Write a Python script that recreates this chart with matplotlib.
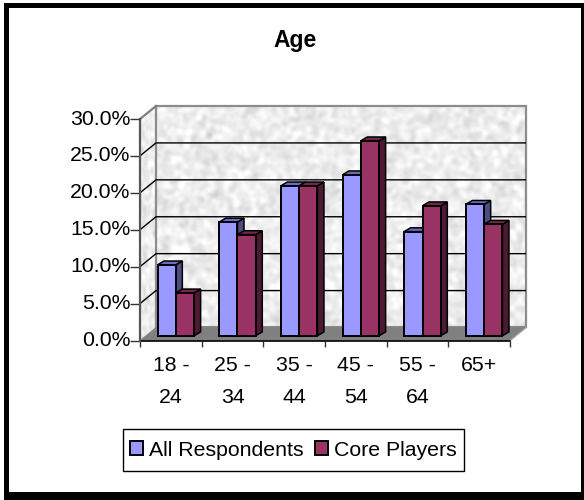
import numpy as np
import matplotlib
matplotlib.use("Agg")
import matplotlib.pyplot as plt
from matplotlib.patches import Polygon, Rectangle
from matplotlib.transforms import ScaledTranslation

plt.rcParams['font.family'] = ['Liberation Sans', 'DejaVu Sans']

categories = ["18 -\n24", "25 -\n34", "35 -\n44", "45 -\n54", "55 -\n64", "65+"]
all_respondents = [9.6, 15.4, 20.3, 21.8, 14.1, 17.8]
core_players = [5.8, 13.7, 20.3, 26.4, 17.6, 15.1]
y_ticks = [0, 5, 10, 15, 20, 25, 30]

W, H = 584, 500
FONT = 15.3

# pseudo 3d depth, in data units
DX = 16 / 61.7
DY = 13 / 7.38
BAR_W = 18.3 / 61.7
BAR_DX = 6.5 / 61.7
BAR_DY = 3.8 / 7.38
BASE_DX = 5.0 / 61.7
BASE_DY = 4.8 / 7.38


def wall_texture(n=220, m=370):
    # speckled grey paper look of the chart wall
    rng = np.random.default_rng(7)
    noise = rng.normal(size=(n, m))
    fy = np.fft.fftfreq(n)[:, None]
    fx = np.fft.fftfreq(m)[None, :]
    smooth = np.fft.ifft2(np.fft.fft2(noise) * np.exp(-(fx**2 + fy**2) * 90)).real
    smooth = smooth / smooth.std()
    return np.clip(0.93 + 0.03 * smooth, 0, 1)


def draw_bar(ax, x, h, face, top, side):
    x0 = x + BASE_DX
    y0 = BASE_DY
    ax.add_patch(Polygon([(x0 + BAR_W, y0), (x0 + BAR_W + BAR_DX, y0 + BAR_DY),
                          (x0 + BAR_W + BAR_DX, y0 + h + BAR_DY), (x0 + BAR_W, y0 + h)],
                         fc=side, ec="black", lw=1.1, zorder=5, clip_on=False))
    ax.add_patch(Polygon([(x0, y0 + h), (x0 + BAR_DX, y0 + h + BAR_DY),
                          (x0 + BAR_W + BAR_DX, y0 + h + BAR_DY), (x0 + BAR_W, y0 + h)],
                         fc=top, ec="black", lw=1.1, zorder=5, clip_on=False))
    ax.add_patch(Rectangle((x0, y0), BAR_W, h, fc=face, ec="black", lw=1.4,
                           zorder=6, clip_on=False))


fig = plt.figure(figsize=(W / 100, H / 100), dpi=100, facecolor="white")
# thick outer frame, black filled box with a white one on top
fig.add_artist(Rectangle((4 / W, 0), 580 / W, 497 / H, fc="black", ec="none",
                         transform=fig.transFigure, zorder=-2))
fig.add_artist(Rectangle((9 / W, 1 - 492 / H), 572 / W, 484 / H, fc="white", ec="none",
                         transform=fig.transFigure, zorder=-1))

# axes box runs from the front plane origin to the back wall top right
ax = fig.add_axes([140 / W, 1 - 340.5 / H, 386 / W, 234.5 / H])
ax.patch.set_alpha(0)
for s in ax.spines.values():
    s.set_visible(False)

tex = wall_texture()
ax.imshow(tex, cmap="gray", vmin=0, vmax=1, extent=(DX, 6 + DX, DY, 30 + DY),
          aspect="auto", zorder=1)
left = Polygon([(0, 0), (DX, DY), (DX, 30 + DY), (0, 30)], fc="none", ec="none", zorder=1)
ax.add_patch(left)
side_img = ax.imshow(tex[:, :30], cmap="gray", vmin=0, vmax=1, extent=(0, DX, 0, 30 + DY),
                     aspect="auto", zorder=1)
side_img.set_clip_path(left)
ax.set_xlim(0, 6 + DX)
ax.set_ylim(0, 30 + DY)
ax.add_patch(Rectangle((DX, DY), 6, 30, fc="none", ec="#8c8c8c", lw=1.6, zorder=2,
                       clip_on=False))

# floor
ax.add_patch(Polygon([(0, 0), (6, 0), (6 + DX, DY), (DX, DY)], fc="#808080", ec="#808080",
                     lw=0.5, zorder=2))
ax.plot([DX, 0], [30 + DY, 30], color="#808080", lw=1.6, zorder=3, clip_on=False)
ax.plot([0, 6], [0, 0], color="black", lw=1.2, zorder=4, clip_on=False)
ax.plot([0, 0], [0, 30], color="#555555", lw=1.6, zorder=4, clip_on=False)
ax.plot([6, 6 + DX], [0, DY], color="#a0a0a0", lw=1.0, zorder=3)

# gridlines on both walls
for v in y_ticks[1:-1]:
    ax.plot([0, DX, 6 + DX], [v, v + DY, v + DY], color="black", lw=1.0, zorder=3)

# bars
for i in range(len(categories)):
    draw_bar(ax, i + 0.5 - BAR_W, all_respondents[i], "#9999ff", "#6a6acc", "#4d4d80")
    draw_bar(ax, i + 0.5, core_players[i], "#993366", "#73264d", "#4d1a33")

ax.set_xticks(range(7))
ax.set_xticklabels([])
ax.set_yticks(y_ticks)
ax.set_yticklabels(["%.1f%%" % v for v in y_ticks], fontsize=FONT, color="black")
ax.tick_params(axis="x", length=4.5, width=1.0, color="#333333")
ax.tick_params(axis="y", length=7, width=1.0, color="#333333", pad=0)
# labels sit a little above their ticks in the original
up = ScaledTranslation(0, 2 / 100, fig.dpi_scale_trans)
for lab in ax.get_yticklabels():
    lab.set_transform(lab.get_transform() + up)
for i, c in enumerate(categories):
    ax.text(i + 0.5, -2.1, c, ha="center", va="top", fontsize=FONT, linespacing=1.85,
            clip_on=False)

fig.text(295 / W, 1 - 41 / H, "Age", ha="center", va="center", fontsize=16.5, fontweight="bold")

# legend, frame drawn separately because it is taller than the entries need
fig.add_artist(Rectangle((123 / W, 1 - 471 / H), 341 / W, 42 / H, fc="white", ec="black",
                         lw=1.0, transform=fig.transFigure, zorder=1))
leg_h = [Rectangle((0, 0), 1, 1, fc="#9999ff", ec="black", lw=1.4),
         Rectangle((0, 0), 1, 1, fc="#993366", ec="black", lw=1.4)]
leg = fig.legend(leg_h, ["All Respondents", "Core Players"], loc="center",
                 bbox_to_anchor=(293.5 / W, 1 - 450 / H), ncol=2, fontsize=FONT,
                 frameon=False, handlelength=0.58, handleheight=0.62, handletextpad=0.3,
                 columnspacing=0.55, borderpad=0, borderaxespad=0)
leg.set_zorder(2)

fig.savefig("out.png", dpi=100)
